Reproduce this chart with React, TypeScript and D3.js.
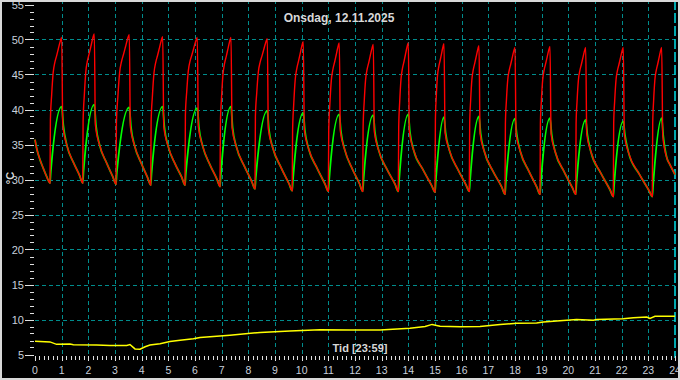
import React from "react";
import * as d3 from "d3";

// ---- data (hours, °C) ----
const titleText = "Onsdag, 12.11.2025";
const xLabel = "Tid [23:59]";
const yLabel = "°C";
const xTicks = d3.range(0, 25);
const yTicks = d3.range(5, 56, 5);

// tail of the decay before the first cycle
const startDecay: [number, number][] = [
  [0, 35.7], [0.06, 34.5], [0.19, 32.8], [0.31, 31.6], [0.44, 30.4],
];
// per-cycle readings
const troughT = [0.5625, 1.789, 3.0375, 4.339, 5.625, 6.9375, 8.25, 9.645, 11.0, 12.289, 13.624, 15.0, 16.286, 17.625, 18.9375, 20.276, 21.686, 23.149];
const troughV = [29.5, 29.5, 29.33, 29.2, 29.2, 29.0, 28.66, 28.4, 28.3, 28.3, 28.3, 28.2, 28.3, 27.9, 27.9, 27.9, 27.57, 27.57];
const peakT = [1.001, 2.224, 3.536, 4.789, 6.086, 7.35, 8.711, 10.061, 11.411, 12.686, 13.999, 15.3375, 16.65, 18.0, 19.3125, 20.651, 22.061, 23.501];
const redPeak = [50.3, 50.8, 50.7, 50.4, 50.3, 50.3, 50.1, 49.7, 49.5, 49.3, 49.5, 49.4, 49.1, 48.85, 49.0, 48.85, 48.85, 48.85];
const greenPeak = [40.4, 40.7, 40.3, 40.4, 40.2, 40.4, 39.8, 39.5, 39.3, 39.2, 39.3, 38.9, 39.0, 38.7, 38.75, 38.5, 38.3, 38.75];
const redJump = [38.5, 38.3, 38.0, 38.2, 39.2, 38.0, 39.0, 37.0, 37.0, 37.5, 37.5, 38.5, 38.0, 38.0, 38.0, 38.0, 38.0, 38.0];
const dropV = [37.8, 37.8, 37.6, 37.6, 37.5, 37.4, 37.2, 37.0, 36.9, 36.8, 36.8, 36.7, 36.6, 36.6, 36.5, 36.5, 36.4, 36.2];
const decay1 = [34.8, 34.9, 34.8, 34.8, 34.8, 34.7, 34.6, 34.4, 34.3, 34.2, 34.2, 34.2, 34.0, 34.0, 33.9, 33.9, 33.8, 33.0];
const decay2 = [32.4, 32.4, 32.3, 32.2, 32.1, 31.9, 31.7, 31.6, 31.5, 31.4, 31.4, 31.4, 31.1, 31.2, 31.1, 30.9, 30.8, 32.2];
const decay3 = [30.6, 30.4, 30.3, 30.3, 30.1, 29.7, 29.4, 29.3, 29.4, 29.3, 29.1, 29.2, 28.9, 28.9, 28.8, 28.5, 28.4];
const endPoint: [number, number] = [24, 30.7];
// shape of the red rise: fraction of rise time -> fraction of rise height
const riseTime = [0.14, 0.27, 0.42, 0.57, 0.71, 0.85];
const riseShare = [0.3, 0.57, 0.7, 0.78, 0.86, 0.94];

// outdoor temperature (yellow)
const outT = [0, 0.56, 0.81, 1.31, 1.44, 2.31, 2.81, 3.44, 3.56, 3.75, 3.94, 4.13, 4.31, 4.69, 5.06, 5.44, 5.94, 6.19, 7.31, 8.44, 9.56, 10.69, 11.81, 12.94, 14.06, 14.63, 14.89, 15.19, 15.94, 16.69, 17.06, 17.44, 18.06, 18.81, 19.06, 19.81, 20.31, 20.94, 21.06, 22.06, 22.44, 22.94, 23.06, 23.25, 24];
const outV = [6.9, 6.8, 6.45, 6.5, 6.4, 6.37, 6.3, 6.3, 6.43, 5.8, 5.75, 6.1, 6.35, 6.55, 6.85, 7.05, 7.25, 7.43, 7.75, 8.15, 8.35, 8.55, 8.5, 8.5, 8.75, 9.0, 9.3, 9.05, 8.95, 9.0, 9.15, 9.3, 9.45, 9.5, 9.65, 9.85, 10.0, 9.9, 10.0, 10.1, 10.25, 10.35, 10.15, 10.45, 10.45];

function buildSeries() {
  const red: [number, number][] = [...startDecay];
  const green: [number, number][] = [...startDecay];
  const n = troughT.length;
  for (let i = 0; i < n; i++) {
    const t0 = troughT[i], v0 = troughV[i], tp = peakT[i];
    const R = tp - t0;
    const A = redPeak[i] - redJump[i];
    red.push([t0, v0], [t0 + 0.015, redJump[i]]);
    riseTime.forEach((f, k) => red.push([t0 + f * R, redJump[i] + riseShare[k] * A]));
    red.push([tp, redPeak[i]], [tp + 0.04, dropV[i]]);
    green.push([t0, v0], [t0 + 0.03, v0 + 1.6], [tp, greenPeak[i]], [tp + 0.06, dropV[i]]);
    const nextT = i + 1 < n ? troughT[i + 1] : endPoint[0];
    const decayPts: [number, number][] = [[tp + 0.2, decay1[i]], [(tp + nextT) / 2 + 0.05, decay2[i]]];
    if (i + 1 < n) decayPts.push([nextT - 0.12, decay3[i]]);
    else decayPts.push(endPoint);
    red.push(...decayPts);
    green.push(...decayPts);
  }
  return { red, green };
}

export default function App() {
  const W = 680, H = 380;
  const x = d3.scaleLinear().domain([0, 24]).range([35, 675]);
  const y = d3.scaleLinear().domain([5, 55]).range([354.5, 4.5]);
  const { red, green } = buildSeries();
  const line = d3.line<[number, number]>().x(d => x(d[0])).y(d => y(d[1])).curve(d3.curveMonotoneX);
  const outLine = d3.line<number>().x((_, i) => x(outT[i])).y(d => y(d)).curve(d3.curveLinear);
  const gridColor = "#008c8c";
  const textColor = "#c8d0dc";
  const font = "'Liberation Sans', Arial, sans-serif";
  const minorX = d3.range(0, 24 * 60 + 1, 10);
  const minorY = d3.range(5, 56, 1);

  return (
    <svg width={W} height={H} style={{ position: "fixed", left: 0, top: 0, display: "block" }} fontFamily={font}>
      <rect x={0} y={0} width={W} height={H} fill="#000" />
      {/* grid */}
      {xTicks.filter(h => h > 0 && h < 24).map(h => (
        <line key={"vg" + h} x1={Math.round(x(h)) + 0.5} x2={Math.round(x(h)) + 0.5} y1={0} y2={355} stroke={gridColor} strokeWidth={1} strokeDasharray="4,3" />
      ))}
      {yTicks.filter(v => v > 5 && v < 55).map(v => (
        <line key={"hg" + v} x1={x(0)} x2={x(24)} y1={Math.round(y(v)) + 0.5} y2={Math.round(y(v)) + 0.5} stroke={gridColor} strokeWidth={1} strokeDasharray="4,3" />
      ))}
      <line x1={x(24)} x2={x(24)} y1={0} y2={358} stroke="#00e0e8" strokeWidth={1.5} strokeDasharray="10,3" />
      {/* y axis ticks */}
      {minorY.map(v => (
        <line key={"yt" + v} x1={v % 5 === 0 ? 25 : 30} x2={34} y1={Math.round(y(v)) + 0.5} y2={Math.round(y(v)) + 0.5} stroke="#e0e0e0" strokeWidth={1} />
      ))}
      {yTicks.map(v => (
        <text key={"yl" + v} x={24} y={y(v) + 4} textAnchor="end" fontSize={11} fill={textColor}>{v}</text>
      ))}
      {/* x axis ticks */}
      {minorX.map(m => (
        <line key={"xt" + m} x1={Math.round(x(m / 60)) + 0.5} x2={Math.round(x(m / 60)) + 0.5} y1={356} y2={m % 60 === 0 ? 361 : 360} stroke="#e0e0e0" strokeWidth={1} />
      ))}
      {xTicks.map(h => (
        <text key={"xl" + h} x={x(h)} y={374} textAnchor="middle" fontSize={10.5} fill={textColor}>{h}</text>
      ))}
      {/* series */}
      <path d={outLine(outV) || ""} fill="none" stroke="#ffff00" strokeWidth={1.5} />
      <path d={line(green) || ""} fill="none" stroke="#00ff00" strokeWidth={1.8} />
      <path d={line(red) || ""} fill="none" stroke="#ff0000" strokeWidth={1.4} />
      {/* texts */}
      <text x={339} y={22} textAnchor="middle" fontSize={12} fontWeight="bold" fill="#d8d8d8">{titleText}</text>
      <text x={360} y={352} textAnchor="middle" fontSize={11} fontWeight="bold" fill="#d8d8d8">{xLabel}</text>
      <text transform="translate(14,178) rotate(-90)" textAnchor="middle" fontSize={11} fontWeight="bold" fill="#d8d8d8">{yLabel}</text>
      {/* frame */}
      <rect x={1} y={1} width={W - 2} height={H - 2} fill="none" stroke="#d8d8d8" strokeWidth={2} />
    </svg>
  );
}
